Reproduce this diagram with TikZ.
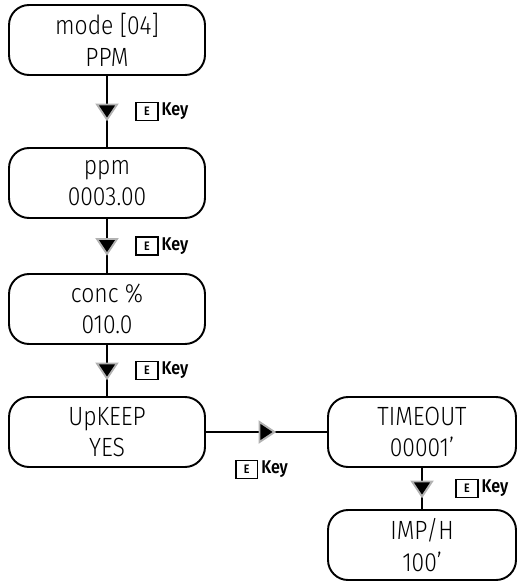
\documentclass[tikz,border=0pt]{standalone}
\usepackage{fontspec}
\setmainfont{Fira Sans Light}[BoldFont={Fira Sans SemiBold}, FakeStretch=0.87]
\usetikzlibrary{positioning}

\setlength{\fboxrule}{0.9pt}
\setlength{\fboxsep}{2.2pt}
\newcommand{\ekey}{\fbox{\makebox[7pt]{\fontsize{7}{7}\selectfont E}}\,Key}

\tikzset{
  screen/.style={draw, line width=1.1pt, rounded corners=0.4cm, minimum height=1.4cm,
    align=center, inner sep=0pt, font=\fontsize{15}{18}\selectfont},
  keylbl/.style={inner sep=0pt, font=\bfseries\fontsize{10.5}{12}\selectfont},
  link/.style={line width=1.1pt},
  pics/downtri/.style={code={\filldraw[fill=black, draw=gray!60, line width=1.1pt]
    (-10,-7) -- (10,-7) -- (0,8) -- cycle;}},
  pics/righttri/.style={code={\filldraw[fill=black, draw=gray!60, line width=1.1pt]
    (-7,-10) -- (-7,10) -- (8,0) -- cycle;}}
}

\begin{document}
\begin{tikzpicture}[x=0.02cm, y=-0.02cm]
    \useasboundingbox (0,0) rectangle (518,581);

    % Ecrans de la colonne gauche
    \node[screen, minimum width=3.92cm] (mode) at (107,40) {mode [04]\\PPM};
    \node[screen, minimum width=3.92cm] (ppm) at (107,183) {ppm\\0003.00};
    \node[screen, minimum width=3.92cm] (conc) at (107,309) {conc \%\\010.0};
    \node[screen, minimum width=3.92cm] (upkeep) at (107,432) {UpKEEP\\YES};

    % Ecrans de droite
    \node[screen, minimum width=3.76cm] (timeout) at (422,432) {TIMEOUT\\00001’};
    \node[screen, minimum width=3.76cm] (imph) at (422,545) {IMP/H\\100’};

    % Liaisons
    \draw[link] (mode) -- coordinate (m1) (ppm);
    \draw[link] (ppm) -- coordinate (m2) (conc);
    \draw[link] (conc) -- coordinate (m3) (upkeep);
    \draw[link] (upkeep) -- coordinate (m4) (timeout);
    \draw[link] (timeout) -- coordinate (m5) (imph);

    % Fleches
    \pic at (m1) {downtri};
    \pic at (m2) {downtri};
    \pic at (m3) {downtri};
    \pic at (m4) {righttri};
    \pic at (m5) {downtri};

    % Touche E
    \node[keylbl, right=0.56cm of m1] (k1) {\ekey};
    \node[keylbl, right=0.56cm of m2] (k2) {\ekey};
    \node[keylbl, right=0.56cm of m3] (k3) {\ekey};
    \node[keylbl, below=0.55cm of m4, xshift=-0.1cm] (k4) {\ekey};
    \node[keylbl, right=0.66cm of m5] (k5) {\ekey};
\end{tikzpicture}
\end{document}
